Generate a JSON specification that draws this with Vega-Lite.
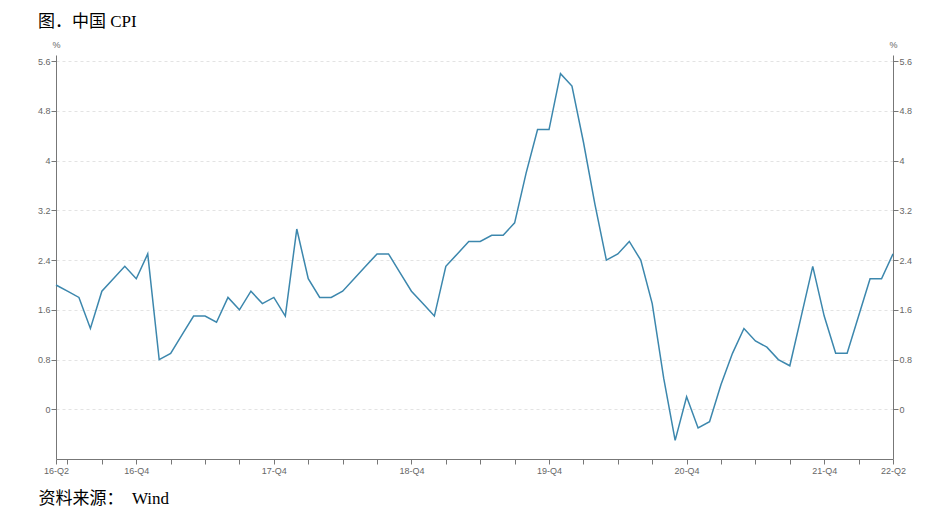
{
  "$schema": "https://vega.github.io/schema/vega-lite/v6.json",
  "width": 837,
  "height": 404,
  "autosize": {"type": "none"},
  "padding": {"left": 56, "top": 55, "right": 48, "bottom": 54},
  "background": "white",
  "title": {
    "text": "图．中国 CPI",
    "anchor": "start",
    "frame": "group",
    "dx": -18,
    "offset": 9,
    "font": "Liberation Serif, Noto Sans CJK SC",
    "fontSize": 17,
    "fontWeight": "normal",
    "color": "#000000"
  },
  "config": {
    "view": {"stroke": null},
    "axis": {
      "labelFont": "Liberation Sans, Arial",
      "labelFontSize": 9,
      "labelColor": "#666666",
      "domainColor": "#777777",
      "tickColor": "#777777",
      "tickSize": 5,
      "titleFont": "Liberation Sans, Arial",
      "titleFontSize": 9,
      "titleFontWeight": "normal",
      "titleColor": "#666666"
    }
  },
  "data": {
    "values": [
      {"month": "2016-05", "cpi": 2.0}, {"month": "2016-06", "cpi": 1.9}, {"month": "2016-07", "cpi": 1.8}, {"month": "2016-08", "cpi": 1.3},
      {"month": "2016-09", "cpi": 1.9}, {"month": "2016-10", "cpi": 2.1}, {"month": "2016-11", "cpi": 2.3}, {"month": "2016-12", "cpi": 2.1},
      {"month": "2017-01", "cpi": 2.5}, {"month": "2017-02", "cpi": 0.8}, {"month": "2017-03", "cpi": 0.9}, {"month": "2017-04", "cpi": 1.2},
      {"month": "2017-05", "cpi": 1.5}, {"month": "2017-06", "cpi": 1.5}, {"month": "2017-07", "cpi": 1.4}, {"month": "2017-08", "cpi": 1.8},
      {"month": "2017-09", "cpi": 1.6}, {"month": "2017-10", "cpi": 1.9}, {"month": "2017-11", "cpi": 1.7}, {"month": "2017-12", "cpi": 1.8},
      {"month": "2018-01", "cpi": 1.5}, {"month": "2018-02", "cpi": 2.9}, {"month": "2018-03", "cpi": 2.1}, {"month": "2018-04", "cpi": 1.8},
      {"month": "2018-05", "cpi": 1.8}, {"month": "2018-06", "cpi": 1.9}, {"month": "2018-07", "cpi": 2.1}, {"month": "2018-08", "cpi": 2.3},
      {"month": "2018-09", "cpi": 2.5}, {"month": "2018-10", "cpi": 2.5}, {"month": "2018-11", "cpi": 2.2}, {"month": "2018-12", "cpi": 1.9},
      {"month": "2019-01", "cpi": 1.7}, {"month": "2019-02", "cpi": 1.5}, {"month": "2019-03", "cpi": 2.3}, {"month": "2019-04", "cpi": 2.5},
      {"month": "2019-05", "cpi": 2.7}, {"month": "2019-06", "cpi": 2.7}, {"month": "2019-07", "cpi": 2.8}, {"month": "2019-08", "cpi": 2.8},
      {"month": "2019-09", "cpi": 3.0}, {"month": "2019-10", "cpi": 3.8}, {"month": "2019-11", "cpi": 4.5}, {"month": "2019-12", "cpi": 4.5},
      {"month": "2020-01", "cpi": 5.4}, {"month": "2020-02", "cpi": 5.2}, {"month": "2020-03", "cpi": 4.3}, {"month": "2020-04", "cpi": 3.3},
      {"month": "2020-05", "cpi": 2.4}, {"month": "2020-06", "cpi": 2.5}, {"month": "2020-07", "cpi": 2.7}, {"month": "2020-08", "cpi": 2.4},
      {"month": "2020-09", "cpi": 1.7}, {"month": "2020-10", "cpi": 0.5}, {"month": "2020-11", "cpi": -0.5}, {"month": "2020-12", "cpi": 0.2},
      {"month": "2021-01", "cpi": -0.3}, {"month": "2021-02", "cpi": -0.2}, {"month": "2021-03", "cpi": 0.4}, {"month": "2021-04", "cpi": 0.9},
      {"month": "2021-05", "cpi": 1.3}, {"month": "2021-06", "cpi": 1.1}, {"month": "2021-07", "cpi": 1.0}, {"month": "2021-08", "cpi": 0.8},
      {"month": "2021-09", "cpi": 0.7}, {"month": "2021-10", "cpi": 1.5}, {"month": "2021-11", "cpi": 2.3}, {"month": "2021-12", "cpi": 1.5},
      {"month": "2022-01", "cpi": 0.9}, {"month": "2022-02", "cpi": 0.9}, {"month": "2022-03", "cpi": 1.5}, {"month": "2022-04", "cpi": 2.1},
      {"month": "2022-05", "cpi": 2.1}, {"month": "2022-06", "cpi": 2.5}
    ]
  },
  "encoding": {
    "x": {
      "field": "month",
      "type": "ordinal",
      "sort": null,
      "scale": {"type": "point", "padding": 0},
      "axis": {
        "values": ["2016-05", "2016-06", "2016-09", "2016-12", "2017-03", "2017-06", "2017-09", "2017-12", "2018-03", "2018-06", "2018-09", "2018-12", "2019-03", "2019-06", "2019-09", "2019-12", "2020-03", "2020-06", "2020-09", "2020-12", "2021-03", "2021-06", "2021-09", "2021-12", "2022-03", "2022-06"],
        "labelExpr": "datum.value == '2016-05' ? '16-Q2' : datum.value == '2022-06' ? '22-Q2' : slice(datum.value, 5) == '12' ? slice(datum.value, 2, 4) + '-Q4' : ''",
        "labelAngle": 0,
        "labelPadding": 2,
        "labelOverlap": false,
        "grid": false,
        "title": "资料来源：\u2002Wind",
        "titleFont": "Liberation Serif, Noto Sans CJK SC",
        "titleFontSize": 17,
        "titleColor": "#000000",
        "titleFontWeight": "normal",
        "titleX": -18,
        "titleY": 44,
        "titleAlign": "left",
        "titleBaseline": "alphabetic",
        "titleAnchor": "start"
      }
    }
  },
  "layer": [
    {
      "mark": {"type": "line", "color": "#3c87ad", "strokeWidth": 1.5},
      "encoding": {
        "y": {
          "field": "cpi",
          "type": "quantitative",
          "scale": {"domain": [-0.8, 5.7], "nice": false, "zero": false},
          "axis": {
            "orient": "left",
            "values": [0, 0.8, 1.6, 2.4, 3.2, 4, 4.8, 5.6],
            "format": ".1~f",
            "labelPadding": 1,
            "grid": true,
            "gridColor": "#e3e3e3",
            "gridDash": [3, 3],
            "title": "%",
            "titleAngle": 0,
            "titleX": 0,
            "titleY": -8,
            "titleAlign": "center",
            "titleBaseline": "alphabetic"
          }
        }
      }
    },
    {
      "mark": {"type": "line", "opacity": 0},
      "encoding": {
        "y": {
          "field": "cpi",
          "type": "quantitative",
          "scale": {"domain": [-0.8, 5.7], "nice": false, "zero": false},
          "axis": {
            "orient": "right",
            "values": [0, 0.8, 1.6, 2.4, 3.2, 4, 4.8, 5.6],
            "format": ".1~f",
            "labelPadding": 1,
            "grid": false,
            "title": "%",
            "titleAngle": 0,
            "titleX": 0,
            "titleY": -8,
            "titleAlign": "center",
            "titleBaseline": "alphabetic"
          }
        }
      }
    }
  ],
  "resolve": {"axis": {"y": "independent"}}
}
